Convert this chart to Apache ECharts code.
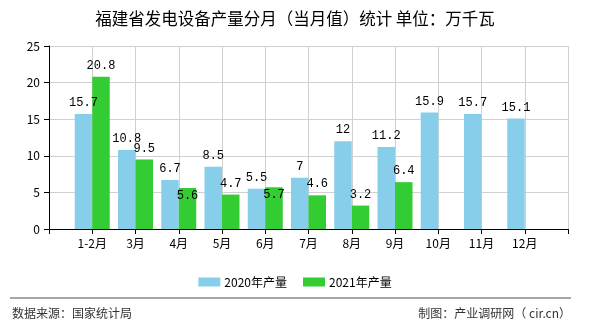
<!DOCTYPE html>
<html>
<head>
<meta charset="utf-8">
<script src="https://cdn.jsdelivr.net/npm/echarts@6/dist/echarts.min.js"></script>
<style>
html,body{margin:0;padding:0;background:#fff;}
#chart{width:590px;height:330px;}
</style>
</head>
<body>
<div id="chart"></div>
<script>
var months = ['1-2月','3月','4月','5月','6月','7月','8月','9月','10月','11月','12月'];
var output2020 = [15.7, 10.8, 6.7, 8.5, 5.5, 7, 12, 11.2, 15.9, 15.7, 15.1];
var output2021 = [20.8, 9.5, 5.6, 4.7, 5.7, 4.6, 3.2, 6.4, null, null, null];
var yTicks = [0, 5, 10, 15, 20, 25];
var seriesNames = ['2020年产量', '2021年产量'];
var insideLabel2021 = [2, 4];

var cjk = '"Noto Sans CJK SC", sans-serif';
var cats = [''].concat(months, ['']);
function pad(arr, inside) {
  var out = ['-'];
  arr.forEach(function (v, i) {
    if (v === null) { out.push('-'); return; }
    if (inside && inside.indexOf(i) >= 0) {
      out.push({ value: v, label: { position: 'insideTop', distance: 2 } });
    } else out.push(v);
  });
  out.push('-');
  return out;
}
var labelStyle = { show: true, position: 'top', distance: 5, color: '#000', fontSize: 12, fontFamily: '"Liberation Mono", monospace' };

var chart = echarts.init(document.getElementById('chart'), null, { renderer: 'canvas' });
chart.setOption({
  animation: false,
  backgroundColor: '#fff',
  title: {
    text: '福建省发电设备产量分月（当月值）统计 单位：万千瓦',
    left: 'center', top: 5,
    textStyle: { fontSize: 16.5, fontWeight: 'normal', color: '#000', fontFamily: cjk }
  },
  legend: {
    data: seriesNames,
    left: 'center', top: 271,
    itemWidth: 22, itemHeight: 9, itemGap: 16,
    icon: 'rect',
    textStyle: { fontSize: 12, color: '#000', fontFamily: cjk, padding: [0, 0, 0, -1] }
  },
  grid: { left: 49, right: 22, top: 46, bottom: 101, containLabel: false },
  xAxis: {
    type: 'category', data: cats, boundaryGap: false,
    axisLine: { lineStyle: { color: '#000', width: 1 } },
    axisTick: { show: true, length: 5, lineStyle: { color: '#000' } },
    axisLabel: { color: '#000', fontSize: 12, fontFamily: cjk, margin: 8, interval: 0 },
    splitLine: { show: true, lineStyle: { color: '#d0d0d0', width: 1 } }
  },
  yAxis: {
    type: 'value', min: yTicks[0], max: yTicks[yTicks.length - 1], interval: 5,
    axisLine: { show: true, lineStyle: { color: '#000', width: 1 } },
    axisTick: { show: true, length: 5, lineStyle: { color: '#000' } },
    axisLabel: { color: '#000', fontSize: 12, fontFamily: cjk, margin: 9 },
    splitLine: { show: true, lineStyle: { color: '#d0d0d0', width: 1 } }
  },
  series: [
    { name: seriesNames[0], type: 'bar', data: pad(output2020), barWidth: 17.5, barGap: '0%',
      itemStyle: { color: '#87CEEB' }, label: labelStyle },
    { name: seriesNames[1], type: 'bar', data: pad(output2021, insideLabel2021), barWidth: 17.5, barGap: '0%',
      itemStyle: { color: '#33CC33' }, label: labelStyle }
  ],
  graphic: [
    { type: 'line', shape: { x1: 10, y1: 298, x2: 571, y2: 298 }, style: { stroke: '#888', lineWidth: 1.5 } },
    { type: 'text', left: 12, top: 307, style: { text: '数据来源：国家统计局', fill: '#333', font: '12px "Noto Sans CJK SC", sans-serif' } },
    { type: 'text', right: 19, top: 307, style: { text: '制图：产业调研网（ cir.cn）', fill: '#333', font: '12px "Noto Sans CJK SC", sans-serif' } }
  ]
});
</script>
</body>
</html>
